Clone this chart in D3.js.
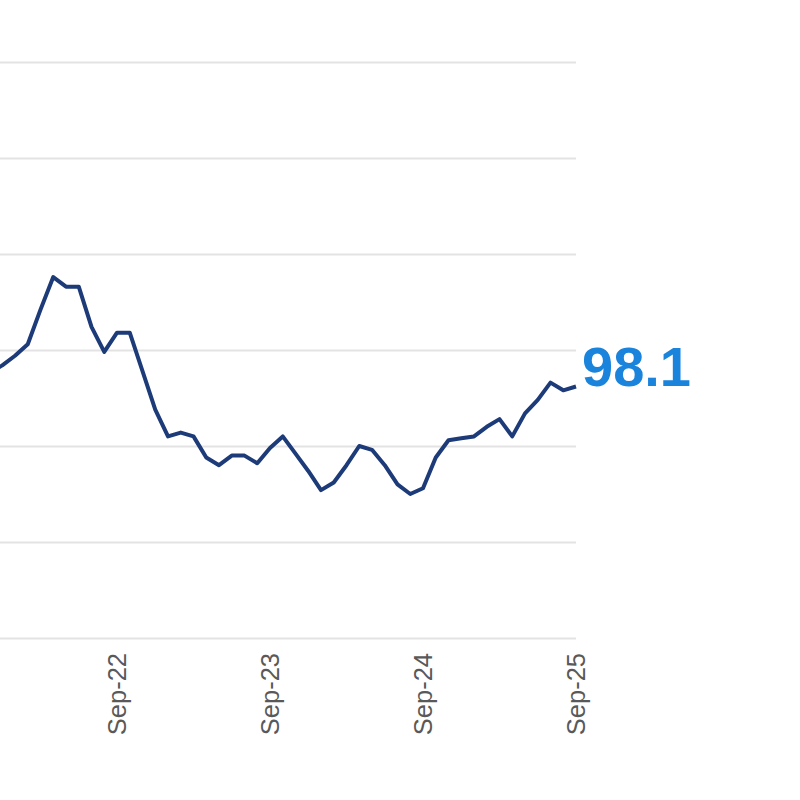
<!DOCTYPE html>
<html>
<head>
<meta charset="utf-8">
<script src="https://cdn.jsdelivr.net/npm/d3@7"></script>
<style>
  body { margin: 0; background: #fff; }
  svg { display: block; font-family: "Liberation Sans", Arial, sans-serif; }
</style>
</head>
<body>
<div id="chart"></div>
<script>
// months shown on the chart (first one is cut by the left edge)
var months = d3.timeMonth.range(new Date(2021, 10, 1), new Date(2025, 8, 2))
    .map(d3.timeFormat("%b-%y"));

// index value
var values = [
    98.8, 99.2, 99.7, 100.3, 102.1, 103.8, 103.3, 103.3, 101.2, 99.9,
    100.9, 100.9, 98.9, 96.9, 95.5, 95.7, 95.5, 94.4, 94.0, 94.5,
    94.5, 94.1, 94.9, 95.5, 94.6, 93.7, 92.7, 93.1, 94.0, 95.0,
    94.8, 94.0, 93.0, 92.5, 92.8, 94.4, 95.3, 95.4, 95.5, 96.0,
    96.4, 95.5, 96.7, 97.4, 98.3, 97.9, 98.1
];

var xTicks = ["Sep-22", "Sep-23", "Sep-24", "Sep-25"];
var yTicks = [85, 90, 95, 100, 105, 110, 115];

function draw() {
    var w = 800;
    var h = 800;
    var right = 576;

    var svg = d3.select("#chart")
        .append("svg")
        .attr("width", w)
        .attr("height", h);

    var data = months.map(function(m, i) {
        return { month: m, value: values[i] };
    });

    // Sep-22 sits at 117px, Sep-25 at the right end of the plot
    var step = (right - 117) / 36;
    var x = d3.scalePoint()
        .domain(months)
        .range([117 - step * months.indexOf("Sep-22"), right]);

    var y = d3.scaleLinear()
        .domain([85, 115])
        .range([638, 62]);

    // horizontal grid lines
    var grid = svg.append("g")
        .call(d3.axisRight(y).tickValues(yTicks).tickSize(right).tickFormat(""));
    grid.select(".domain").remove();
    grid.selectAll(".tick line")
        .attr("stroke", "#e3e3e3")
        .attr("stroke-width", 2);

    // x axis labels, rotated
    var xAxis = svg.append("g")
        .attr("transform", "translate(0,638)")
        .call(d3.axisBottom(x).tickValues(xTicks).tickSize(0));
    xAxis.select(".domain").remove();
    xAxis.selectAll("text")
        .attr("transform", "rotate(-90)")
        .attr("text-anchor", "end")
        .attr("x", -15)
        .attr("y", 0)
        .attr("dy", "8px")
        .attr("fill", "#595959")
        .style("font-family", "'Liberation Sans', Arial, sans-serif")
        .style("font-size", "25.5px");

    var line = d3.line()
        .x(function(d) { return x(d.month); })
        .y(function(d) { return y(d.value); });

    svg.append("path")
        .datum(data)
        .attr("fill", "none")
        .attr("stroke", "#1c3b78")
        .attr("stroke-width", 4)
        .attr("stroke-linejoin", "round")
        .attr("d", line);

    // label for the latest value
    var last = data[data.length - 1];
    svg.append("text")
        .attr("x", x(last.month) + 6)
        .attr("y", y(last.value))
        .attr("fill", "#1a84dc")
        .style("font-size", "56px")
        .style("font-weight", "bold")
        .text(d3.format(".1f")(last.value));
}

window.onload = draw;
</script>
</body>
</html>
